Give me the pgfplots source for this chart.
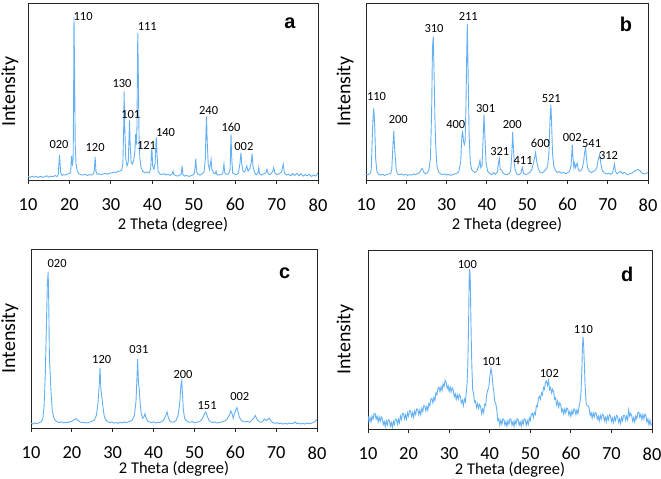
\documentclass[border=0pt]{standalone}
\usepackage{fontspec}
\setmainfont{Carlito}
\newfontfamily\letterfont{Liberation Sans}
\usepackage{pgfplots}
\pgfplotsset{compat=1.18}
\definecolor{xrdblue}{RGB}{100,176,244}

\pgfplotsset{
  xrd/.style={
    scale only axis,
    anchor=south west,
    xmin=10, xmax=80, ymin=0, ymax=100,
    xtick={10,20,...,80},
    ytick=\empty,
    xtick pos=left,
    tick align=outside,
    major tick length=4bp,
    axis line style={black!85, line width=0.9bp},
    every tick/.style={black!85, line width=0.9bp},
    /pgf/number format/assume math mode=true,
    ticklabel style={font=\fontsize{18.5}{21}\selectfont},
    xticklabel style={yshift=-11bp},
    xlabel={2 Theta (degree)},
    ylabel={Intensity},
  },
  xlab/.style={every axis x label/.style={at={([yshift=#1]axis description cs:0.5,0)}, anchor=center, font=\fontsize{16.5}{19}\selectfont}},
  ylab/.style={every axis y label/.style={at={([xshift=#1]axis description cs:0,0.5)}, rotate=90, anchor=center, font=\fontsize{20}{23}\selectfont}},
  xrdline/.style={xrdblue, line width=0.9bp, no marks},
}
\tikzset{
  lbl/.style={font=\fontsize{12.5}{14}\selectfont, inner sep=0pt},
  panel/.style={font=\letterfont\bfseries\fontsize{20}{22}\selectfont, inner sep=0pt},
}

\begin{document}
\begin{tikzpicture}
\useasboundingbox (0,0) rectangle (661bp,479bp);

% ---------- a ----------
\begin{axis}[xrd, xlab=-45bp, ylab=-18bp, at={(28bp,299bp)}, width=290bp, height=177bp]
\addplot[xrdline] coordinates {
(10,2.0) (10.5,1.5) (11,2.2) (11.5,1.6) (12,2.0) (12.5,1.4) (13,2.1) (13.5,1.5) (14,1.8) (14.5,2.4)
(15,1.6) (15.5,2.2) (16,1.8) (16.5,2.5) (17,2.0) (17.3,3.0) (17.6,14) (17.9,4.0) (18.2,2.6) (18.6,3.0)
(19,2.8) (19.5,3.4) (20,3.6) (20.3,4.5) (20.5,13.6) (20.7,8) (20.9,12) (21.0,40) (21.1,92) (21.25,60)
(21.4,20) (21.6,9) (21.9,5) (22.3,3.5) (22.8,3.0) (23.3,2.8) (23.8,3.2) (24.3,2.6) (24.8,3.0) (25.3,2.8)
(25.8,3.5) (26.0,5) (26.2,13) (26.4,5) (26.7,3.2) (27.2,3.5) (27.7,3.0) (28.2,3.4) (28.7,3.8) (29.2,3.2)
(29.7,3.8) (30.2,4.0) (30.7,4.4) (31.2,4.2) (31.7,4.8) (32.2,5.0) (32.6,5.5) (32.9,9) (33.1,30) (33.2,50)
(33.35,30) (33.6,12) (33.9,8) (34.2,10) (34.4,25) (34.5,34) (34.65,20) (34.9,10) (35.2,9) (35.5,11)
(35.8,16) (36.0,26) (36.15,20) (36.3,30) (36.5,83) (36.65,55) (36.8,25) (37.0,12) (37.3,7) (37.7,5)
(38.2,4.0) (38.7,4.6) (39.2,4.0) (39.6,6) (39.8,15) (39.9,18) (40.1,8) (40.4,6) (40.7,10) (40.9,22)
(41.0,24) (41.15,14) (41.4,5) (41.8,3.5) (42.3,3.0) (42.8,3.6) (43.3,2.8) (43.8,3.2) (44.3,2.6) (44.8,3.5)
(45.0,5) (45.2,3) (45.7,2.5) (46.2,2.2) (46.7,2.8) (47.0,3.5) (47.2,8) (47.4,3) (47.8,2.2) (48.3,2.6)
(48.8,2.0) (49.3,2.4) (49.8,2.8) (50.2,4) (50.5,12) (50.7,5) (51.0,3.2) (51.5,2.8) (52.0,3.4) (52.5,4.5)
(52.8,12) (53.0,30) (53.1,36) (53.25,22) (53.5,9) (53.8,6) (54.1,10) (54.2,11.5) (54.4,6) (54.8,4)
(55.2,3.5) (55.4,5) (55.6,3.2) (56.0,2.8) (56.5,3.0) (57.0,3.5) (57.3,9) (57.5,4) (57.9,3.2) (58.4,3.4)
(58.8,6) (59.0,26) (59.15,14) (59.4,4) (59.8,3.4) (60.3,3.0) (60.8,4) (61.2,10) (61.4,15.5) (61.6,9)
(61.9,5) (62.3,4.5) (62.8,8) (63.1,5) (63.5,6) (63.9,10) (64.1,15) (64.3,8) (64.7,4) (65.1,3.0)
(65.5,4) (65.7,7) (65.9,3.5) (66.4,2.8) (66.9,3.5) (67.4,4) (67.7,6) (68.0,3.5) (68.4,3.0) (68.8,4)
(69.1,5) (69.3,7) (69.6,4) (70.1,3.0) (70.6,3.4) (71.2,4.5) (71.6,9) (71.9,4) (72.4,2.8) (72.9,3.2)
(73.4,2.4) (73.9,3.6) (74.4,2.6) (74.9,3.8) (75.4,2.4) (75.9,3.6) (76.4,2.2) (76.9,3.0) (77.4,2.4) (77.9,3.2)
(78.4,2.0) (78.9,2.8) (79.4,2.2) (79.7,3.0) (80,4.0)
};
\node[lbl] at (axis cs:17.5,19.8) {020};
\node[lbl] at (axis cs:23.3,92.6) {110};
\node[lbl] at (axis cs:26.2,18.3) {120};
\node[lbl] at (axis cs:32.7,54.3) {130};
\node[lbl] at (axis cs:34.8,36.9) {101};
\node[lbl] at (axis cs:38.8,86.8) {111};
\node[lbl] at (axis cs:38.6,19.3) {121};
\node[lbl] at (axis cs:43.2,26.7) {140};
\node[lbl] at (axis cs:53.6,39.1) {240};
\node[lbl] at (axis cs:59.0,29.7) {160};
\node[lbl] at (axis cs:62.1,18.7) {002};
\node[panel] at (axis cs:73.2,88.3) {a};
\end{axis}

% ---------- b ----------
\begin{axis}[xrd, xlab=-45bp, ylab=-21bp, at={(366bp,299bp)}, width=282bp, height=177bp]
\addplot[xrdline] coordinates {
(10,3.2) (10.5,3.0) (11.0,3.6) (11.3,6) (11.5,20) (11.7,33) (11.9,40.5) (12.0,38) (12.2,28) (12.4,12)
(12.7,5) (13.1,3.2) (13.6,2.8) (14.1,3.2) (14.6,2.6) (15.1,3.0) (15.6,3.4) (16.1,3.6) (16.4,6) (16.7,20)
(16.9,27.8) (17.1,18) (17.3,12) (17.5,6) (17.8,3.5) (18.3,3.0) (18.8,3.4) (19.3,2.8) (19.8,3.2) (20.3,2.6)
(20.8,3.0) (21.3,2.8) (21.8,3.4) (22.3,3.0) (22.8,3.6) (23.3,4.2) (23.7,6) (24.0,6.5) (24.3,4.5) (24.7,3.5)
(25.2,4.0) (25.6,5.5) (26.0,12) (26.3,40) (26.5,75) (26.7,81) (26.9,60) (27.1,35) (27.3,20) (27.6,8)
(28.0,4.5) (28.5,3.5) (29.0,3.0) (29.5,3.4) (30.0,2.8) (30.5,3.2) (31.0,2.6) (31.5,3.0) (32.0,3.4) (32.5,3.8)
(33.0,4.5) (33.5,10) (33.8,25) (34.0,27) (34.2,22) (34.4,20) (34.6,22) (34.8,40) (35.0,70) (35.15,88)
(35.35,60) (35.6,25) (35.9,10) (36.2,6) (36.6,5) (37.0,4.2) (37.5,5) (38.0,8) (38.3,11) (38.5,7)
(38.8,8) (39.1,25) (39.3,37) (39.5,25) (39.8,10) (40.2,5) (40.7,3.6) (41.2,3.0) (41.7,4.2) (42.1,3.2)
(42.6,4.5) (42.9,10) (43.1,12) (43.3,6) (43.7,5.5) (44.0,4) (44.5,3.2) (45.0,3.0) (45.5,3.6) (45.9,5)
(46.2,15) (46.4,27) (46.6,18) (46.8,10) (47.0,6) (47.4,3.5) (47.9,3.0) (48.4,3.6) (48.8,7) (49.1,3.8)
(49.6,3.0) (50.1,3.4) (50.6,4.2) (51.1,5.5) (51.5,9) (51.8,12) (52.1,15.5) (52.4,10) (52.8,6) (53.2,4.5)
(53.7,4.0) (54.2,4.8) (54.7,6) (55.1,8) (55.4,15) (55.7,35) (55.9,42.5) (56.1,30) (56.3,15) (56.6,8)
(57.0,5.5) (57.5,4.2) (58.0,4.8) (58.5,3.8) (59.0,4.4) (59.5,3.6) (60.0,4.0) (60.5,4.8) (60.9,8) (61.2,20)
(61.4,12) (61.6,7) (61.8,9.5) (62.0,7) (62.4,9.5) (62.7,6) (63.1,5) (63.6,6) (64.0,10) (64.3,16)
(64.5,18) (64.7,13) (65.0,7) (65.4,5) (65.9,4.2) (66.4,4.8) (66.9,5.5) (67.3,7) (67.7,12) (68.0,14.5)
(68.3,9) (68.7,5) (69.2,4) (69.7,3.4) (70.2,3.8) (70.7,3.2) (71.2,4) (71.5,7) (71.7,9) (71.9,5)
(72.3,3.5) (72.8,4.2) (73.2,5) (73.6,3.6) (74.1,4.4) (74.6,3.4) (75.1,3.0) (75.6,3.6) (76.1,4.0) (76.6,5)
(77.1,5.5) (77.6,6) (78.0,5.2) (78.5,4.0) (79.0,3.4) (79.5,3.6) (80.0,4.2)
};
\node[lbl] at (axis cs:12.6,47.3) {110};
\node[lbl] at (axis cs:18.0,34.0) {200};
\node[lbl] at (axis cs:26.9,85.8) {310};
\node[lbl] at (axis cs:32.3,31.6) {400};
\node[lbl] at (axis cs:35.4,92.6) {211};
\node[lbl] at (axis cs:39.7,40.6) {301};
\node[lbl] at (axis cs:43.2,15.9) {321};
\node[lbl] at (axis cs:46.3,31.6) {200};
\node[lbl] at (axis cs:49.0,10.8) {411};
\node[lbl] at (axis cs:53.3,20.6) {600};
\node[lbl] at (axis cs:56.0,46.1) {521};
\node[lbl] at (axis cs:61.2,24.0) {002};
\node[lbl] at (axis cs:66.0,20.6) {541};
\node[lbl] at (axis cs:70.2,14.0) {312};
\node[panel] at (axis cs:74.5,88) {b};
\end{axis}

% ---------- c ----------
\begin{axis}[xrd, xlab=-41bp, ylab=-21bp, at={(31bp,51bp)}, width=286bp, height=179bp]
\addplot[xrdline] coordinates {
(10,2.6) (10.5,2.2) (11.0,2.8) (11.5,2.4) (12.0,3.0) (12.5,3.4) (12.9,5) (13.2,12) (13.5,30) (13.8,60)
(14.0,80) (14.2,87.3) (14.35,70) (14.5,40) (14.7,30) (14.9,20) (15.2,10) (15.6,5.5) (16.0,4.0) (16.5,3.4)
(17.0,3.0) (17.5,3.4) (18.0,2.8) (18.5,3.2) (19.0,3.0) (19.5,3.4) (20.0,3.8) (20.5,4.5) (21.0,5.2) (21.5,4.2)
(22.0,3.4) (22.5,3.0) (23.0,3.2) (23.5,2.8) (24.0,3.0) (24.5,3.4) (25.0,3.8) (25.5,4.5) (26.0,7) (26.4,14)
(26.7,24) (26.9,33.6) (27.1,22) (27.3,18) (27.6,12) (27.9,7) (28.3,4.5) (28.8,3.5) (29.3,3.0) (29.8,3.3)
(30.3,2.8) (30.8,3.0) (31.3,2.6) (31.8,3.2) (32.3,2.8) (32.8,3.4) (33.3,3.0) (33.8,3.4) (34.3,3.8) (34.8,4.5)
(35.3,7) (35.7,15) (35.9,26) (36.1,38.4) (36.3,25) (36.5,22) (36.7,14) (37.0,8) (37.3,5.5) (37.6,6)
(37.9,8) (38.1,6) (38.5,4.0) (39.0,3.4) (39.5,3.0) (40.0,3.4) (40.5,2.8) (41.0,3.2) (41.5,3.0) (42.0,3.6)
(42.5,4.5) (43.0,7) (43.3,9) (43.6,6) (44.0,3.8) (44.5,3.2) (45.0,3.4) (45.5,4.2) (46.0,7) (46.4,14)
(46.7,24) (46.9,26.3) (47.1,18) (47.3,10) (47.6,5.5) (48.0,4.0) (48.5,3.4) (49.0,3.2) (49.5,3.6) (50.0,3.0)
(50.5,3.2) (51.0,3.4) (51.5,4.0) (52.0,5.5) (52.5,8) (52.8,9) (53.1,7) (53.5,4.5) (54.0,3.4) (54.5,3.0)
(55.0,3.4) (55.5,2.8) (56.0,3.0) (56.5,3.2) (57.0,3.6) (57.5,4.0) (58.0,5) (58.5,7) (58.9,9.5) (59.2,8)
(59.5,5.5) (59.8,8) (60.1,10) (60.4,11.4) (60.7,9) (61.0,6) (61.5,4.2) (62.0,3.6) (62.5,3.4) (63.0,3.8)
(63.5,3.2) (64.0,4.2) (64.5,5.5) (64.9,7) (65.3,5) (65.8,3.6) (66.3,3.2) (66.8,4.0) (67.2,5) (67.5,4.2)
(67.9,4.8) (68.3,5.5) (68.7,4.0) (69.2,3.0) (69.7,2.6) (70.2,3.0) (70.7,2.4) (71.2,2.8) (71.7,2.2) (72.2,2.6)
(72.7,2.2) (73.2,2.8) (73.7,2.4) (74.2,2.6) (74.7,3.4) (75.0,2.4) (75.5,2.8) (76.0,2.2) (76.5,2.6) (77.0,2.2)
(77.5,2.8) (78.0,2.4) (78.5,2.6) (79.0,3.0) (79.5,3.6) (80.0,5)
};
\node[lbl] at (axis cs:16.4,92) {020};
\node[lbl] at (axis cs:27.3,38.4) {120};
\node[lbl] at (axis cs:36.4,44) {031};
\node[lbl] at (axis cs:47.2,30) {200};
\node[lbl] at (axis cs:53.1,12.5) {151};
\node[lbl] at (axis cs:61.1,17.7) {002};
\node[panel] at (axis cs:72.1,86.4) {c};
\end{axis}

% ---------- d ----------
\begin{axis}[xrd, xlab=-41bp, ylab=-23bp, at={(368bp,50bp)}, width=284bp, height=179bp]
\addplot[xrdline] coordinates {
(10.00,7.3) (10.25,4.2) (10.50,6.4) (10.75,3.9) (11.00,7.2) (11.25,5.5) (11.50,8.7) (11.75,8.6) (12.00,5.6) (12.25,7.1)
(12.50,4.0) (12.75,6.7) (13.00,4.2) (13.25,6.8) (13.50,6.0) (13.75,2.5) (14.00,4.1) (14.25,1.4) (14.50,4.5) (14.75,2.3)
(15.00,5.2) (15.25,4.8) (15.50,1.6) (15.75,3.6) (16.00,1.0) (16.25,4.3) (16.50,2.4) (16.75,5.6) (17.00,5.3) (17.25,2.7)
(17.50,5.4) (17.75,3.4) (18.00,7.2) (18.25,5.4) (18.50,8.7) (18.75,8.6) (19.00,5.6) (19.25,7.9) (19.50,5.5) (19.75,9.0)
(20.00,7.2) (20.25,10.3) (20.50,10.1) (20.75,7.0) (21.00,9.1) (21.25,6.6) (21.50,10.0) (21.75,8.1) (22.00,11.2) (22.25,11.1)
(22.50,8.1) (22.75,10.4) (23.00,8.0) (23.25,11.5) (23.50,9.7) (23.75,13.0) (24.00,12.8) (24.25,10.1) (24.50,12.6) (24.75,10.5)
(25.00,14.2) (25.25,13.0) (25.50,16.7) (25.75,17.1) (26.00,14.6) (26.25,17.6) (26.50,16.0) (26.75,20.2) (27.00,19.2) (27.25,23.0)
(27.50,23.3) (27.75,20.9) (28.00,23.6) (28.25,21.5) (28.50,25.2) (28.75,23.7) (29.00,27.2) (29.25,26.3) (29.50,22.6) (29.75,24.1)
(30.00,21.0) (30.25,23.5) (30.50,20.7) (30.75,23.0) (31.00,21.8) (31.25,18.1) (31.50,19.6) (31.75,16.5) (32.00,19.2) (32.25,16.7)
(32.50,19.2) (32.75,18.3) (33.00,14.6) (33.25,16.1) (33.50,13.0) (33.75,16.7) (34.00,15.2) (34.25,21.2) (34.40,25) (34.60,35)
(34.80,60) (34.95,85) (35.05,89.3) (35.20,85) (35.30,70) (35.45,50) (35.60,35) (35.80,22) (36.00,19.8) (36.25,15.1)
(36.50,15.6) (36.75,12.0) (37.00,14.2) (37.25,11.5) (37.50,13.7) (37.75,12.6) (38.00,8.6) (38.25,11.1) (38.50,9.0) (38.75,13.7)
(39.00,13.2) (39.25,19.2) (39.50,21.8) (39.75,22.6) (40.00,28.6) (40.15,31) (40.30,33.8) (40.45,32) (40.60,30) (40.80,24)
(41.00,21.2) (41.25,15.2) (41.50,14.2) (41.75,10.8) (42.00,4.6) (42.25,5.6) (42.50,2.0) (42.75,5.0) (43.00,2.7) (43.25,5.7)
(43.50,5.3) (43.75,2.1) (44.00,4.1) (44.25,1.5) (44.50,4.7) (44.75,2.7) (45.00,5.7) (45.25,5.3) (45.50,2.1) (45.75,4.1)
(46.00,1.5) (46.25,4.7) (46.50,2.7) (46.75,5.7) (47.00,5.3) (47.25,2.1) (47.50,4.1) (47.75,1.5) (48.00,4.7) (48.25,2.7)
(48.50,5.7) (48.75,5.3) (49.00,2.1) (49.25,4.6) (49.50,2.5) (49.75,6.2) (50.00,4.7) (50.25,8.5) (50.50,8.8) (50.75,6.4)
(51.00,9.1) (51.25,8.0) (51.50,13.0) (51.75,12.5) (52.00,17.2) (52.25,18.3) (52.50,16.6) (52.75,20.1) (53.00,19.0) (53.25,23.2)
(53.50,22.2) (53.75,26.2) (54.00,26.8) (54.25,24.3) (54.50,27.0) (54.75,22.0) (55.00,23.2) (55.25,20.2) (55.50,22.2) (55.75,20.8)
(56.00,16.6) (56.25,17.4) (56.50,13.5) (56.75,15.5) (57.00,12.2) (57.25,14.6) (57.50,13.6) (57.75,9.7) (58.00,11.1) (58.25,8.3)
(58.50,11.2) (58.75,9.0) (59.00,11.7) (59.25,11.2) (59.50,7.9) (59.75,9.7) (60.00,7.0) (60.25,10.2) (60.50,8.2) (60.75,11.2)
(61.00,10.8) (61.25,8.1) (61.50,10.6) (61.75,8.5) (62.00,12.2) (62.25,15) (62.50,20) (62.70,32) (62.85,45) (63.00,51.4)
(63.15,47) (63.30,38) (63.50,25) (63.75,15) (64.00,13) (64.25,12.9) (64.50,11.8) (64.75,7.6) (65.00,9.1) (65.25,6.1)
(65.50,9.0) (65.75,6.6) (66.00,9.2) (66.25,8.7) (66.50,5.4) (66.75,7.2) (67.00,4.5) (67.25,7.6) (67.50,5.5) (67.75,8.3)
(68.00,7.8) (68.25,4.6) (68.50,6.6) (68.75,4.0) (69.00,7.2) (69.25,5.1) (69.50,8.0) (69.75,7.4) (70.00,4.1) (70.25,6.1)
(70.50,3.5) (70.75,6.7) (71.00,4.7) (71.25,7.6) (71.50,7.1) (71.75,3.7) (72.00,5.6) (72.25,3.1) (72.50,6.5) (72.75,4.6)
(73.00,7.7) (73.25,7.7) (73.50,4.9) (73.75,7.2) (74.00,5.0) (74.25,10.7) (74.50,7.2) (74.75,8.7) (75.00,7.3) (75.25,4.2)
(75.50,6.4) (75.75,3.9) (76.00,7.2) (76.25,5.7) (76.50,9.2) (76.75,9.3) (77.00,6.6) (77.25,8.2) (77.50,5.3) (77.75,8.1)
(78.00,5.7) (78.25,8.3) (78.50,7.6) (78.75,4.0) (79.00,5.6) (79.25,2.4) (79.50,5.0) (79.75,2.3) (80.00,3.0)
};
\node[lbl] at (axis cs:34.5,92) {100};
\node[lbl] at (axis cs:40.5,37.5) {101};
\node[lbl] at (axis cs:54.7,31) {102};
\node[lbl] at (axis cs:63.1,55.6) {110};
\node[panel] at (axis cs:73.9,86.5) {d};
\end{axis}
\end{tikzpicture}
\end{document}
